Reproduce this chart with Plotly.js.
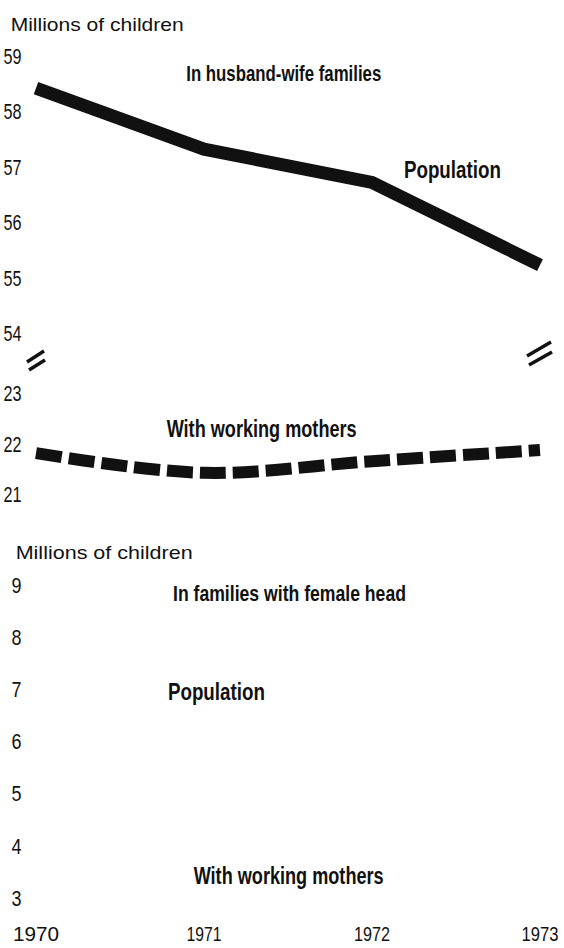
<!DOCTYPE html>
<html>
<head>
<meta charset="utf-8">
<script src="https://cdn.plot.ly/plotly-3.0.1.min.js"></script>
<style>
  html, body { margin: 0; padding: 0; background: #ffffff; }
  #chart { width: 564px; height: 948px; }
</style>
</head>
<body>
<div id="chart"></div>
<script>
// ---- data ----
const years = [1970, 1971, 1972, 1973];
const yearLabels = ["1970", "1971", "1972", "1973"];
// Children in husband-wife families (millions)
const hwPopulation = [58.42, 57.32, 56.72, 55.23];
const hwWorkingMothers = [21.82, 21.43, 21.66, 21.88];
// Children in families with female head: series not legible in the reference
const fhPopulation = [];
const fhWorkingMothers = [];
// tick labels
const topTicks = [54, 55, 56, 57, 58, 59];
const midTicks = [21, 22, 23];
const bottomTicks = [3, 4, 5, 6, 7, 8, 9];

// ---- layout helpers ----
const W = 564, H = 948, L = 30;
const fx = px => (px - L) / (W - L);
const fy = py => 1 - py / H;

const sans = '"Liberation Sans", Arial, sans-serif';
const ink = '#111111';

const traces = [
  {
    x: years, y: hwPopulation, xaxis: 'x', yaxis: 'y',
    mode: 'lines', line: { color: ink, width: 13 },
    hoverinfo: 'skip'
  },
  {
    x: years, y: hwWorkingMothers, xaxis: 'x', yaxis: 'y2',
    mode: 'lines', line: { color: ink, width: 12, dash: '26px,7px', shape: 'spline', smoothing: 1 },
    hoverinfo: 'skip'
  },
  {
    x: years.slice(0, fhPopulation.length), y: fhPopulation, xaxis: 'x', yaxis: 'y3',
    mode: 'lines', line: { color: ink, width: 12 }, hoverinfo: 'skip'
  },
  {
    x: years.slice(0, fhWorkingMothers.length), y: fhWorkingMothers, xaxis: 'x', yaxis: 'y3',
    mode: 'lines', line: { color: ink, width: 12, dash: '26px,7px' }, hoverinfo: 'skip'
  }
];

function yAx(range, ticks, top, bottom) {
  return {
    range: range,
    domain: [fy(bottom), fy(top)],
    tickvals: ticks,
    ticktext: ticks.map(String),
    tickfont: { family: sans, size: 22, color: ink },
    ticks: 'outside', ticklen: 3, tickcolor: 'rgba(0,0,0,0)',
    ticklabeloverflow: 'allow',
    showgrid: false, zeroline: false, showline: false,
    anchor: 'x', fixedrange: true
  };
}

// text, centre x (px), centre y (px), size, bold, target width (px)
const labels = [
  ['Millions of children', 96.5, 25, 19, false, 173],
  ['In husband-wife families', 283.5, 73, 22, true, 195],
  ['Population', 452.5, 170, 23, true, 97],
  ['With working mothers', 261, 429, 23, true, 190],
  ['Millions of children', 103.5, 552, 19, false, 177],
  ['In families with female head', 289.5, 593, 22, true, 233],
  ['Population', 216, 692, 23, true, 97],
  ['With working mothers', 288, 876, 23, true, 190]
];

const annotations = labels.map(l => ({
  text: l[0], xref: 'paper', yref: 'paper',
  x: fx(l[1]), y: fy(l[2]), xanchor: 'center', yanchor: 'middle', align: 'center',
  showarrow: false,
  font: { family: sans, size: l[3], color: ink, weight: l[4] ? 'bold' : 'normal' }
}));

const brk = (x0, y0, x1, y1) => ({
  type: 'line', xref: 'paper', yref: 'paper',
  x0: fx(x0), y0: fy(y0), x1: fx(x1), y1: fy(y1),
  line: { color: ink, width: 3.5 }
});

const layout = {
  width: W, height: H,
  margin: { l: L, r: 0, t: 0, b: 0 },
  paper_bgcolor: '#ffffff', plot_bgcolor: '#ffffff',
  showlegend: false,
  xaxis: {
    range: [1969.9643, 1973.1429],
    tickvals: years, ticktext: yearLabels,
    tickfont: { family: sans, size: 21, color: ink },
    ticks: '',
    ticklabeloverflow: 'allow',
    showgrid: false, zeroline: false, showline: false,
    anchor: 'y3', fixedrange: true
  },
  yaxis: yAx([53.8, 59.6], topTicks, 22.6, 344.5),
  yaxis2: yAx([20.8, 23.2], midTicks, 383.4, 504.6),
  yaxis3: yAx([2.6, 9.4], bottomTicks, 564.1, 918.9),
  annotations: annotations,
  shapes: [
    brk(27, 362, 44, 351),
    brk(29, 370, 45, 360),
    brk(527, 356, 551, 342),
    brk(529, 365, 552, 352)
  ]
};

// the reference uses a tall, condensed typeface: squeeze text horizontally to its widths
const yearWidths = { '1970': 46, '1971': 35, '1972': 36, '1973': 37 };
function squeeze(el, w) {
  el.setAttribute('textLength', w);
  el.setAttribute('lengthAdjust', 'spacingAndGlyphs');
}

Plotly.newPlot('chart', traces, layout, { staticPlot: true, displayModeBar: false }).then(gd => {
  gd.querySelectorAll('g.annotation').forEach(g => {
    const i = +g.getAttribute('data-index');
    const t = g.querySelector('text.annotation-text');
    if (t && labels[i]) squeeze(t, labels[i][5]);
  });
  gd.querySelectorAll('.ytick text, .y2tick text, .y3tick text').forEach(t => {
    const s = t.textContent.trim();
    squeeze(t, s.length > 1 ? 18 : 10);
  });
  gd.querySelectorAll('.xtick text').forEach(t => {
    const s = t.textContent.trim();
    if (yearWidths[s]) squeeze(t, yearWidths[s]);
  });
});
</script>
</body>
</html>
